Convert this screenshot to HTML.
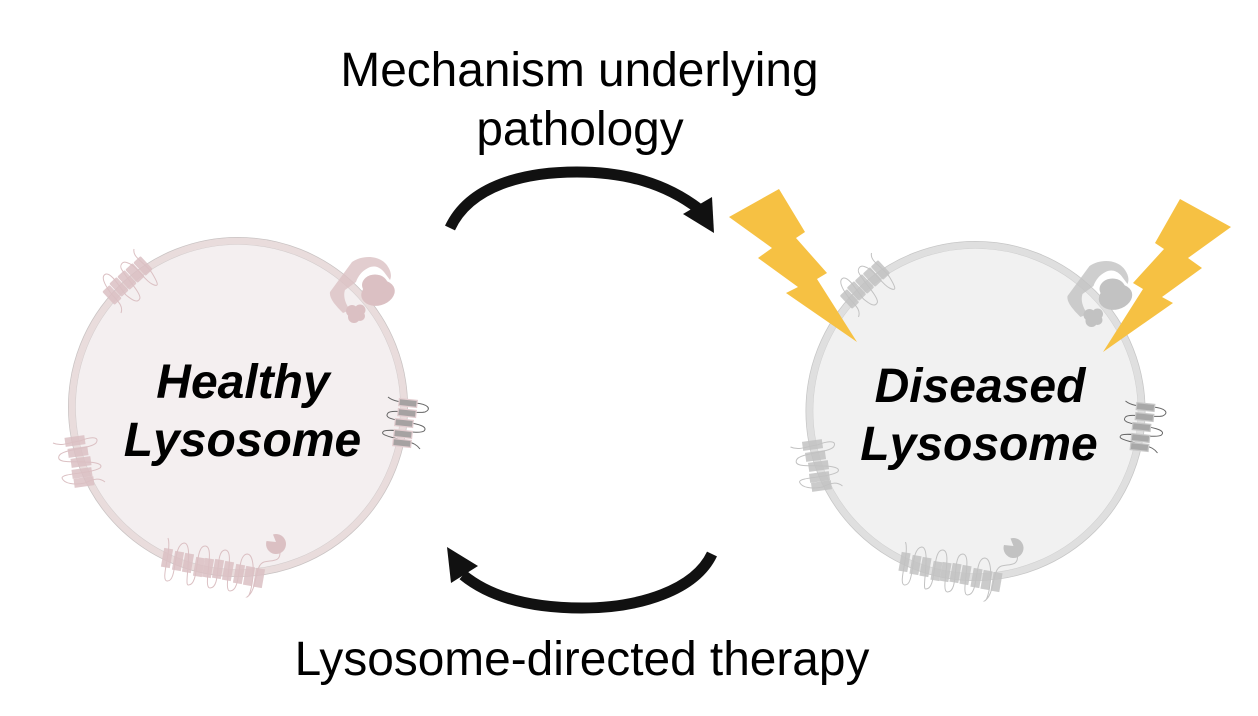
<!DOCTYPE html>
<html><head><meta charset="utf-8"><style>
html,body{margin:0;padding:0;background:#fff;width:1258px;height:716px;overflow:hidden}
svg{display:block}
text{font-family:"Liberation Sans",Arial,sans-serif;font-size:47.8px;fill:#000;text-anchor:middle}
.b{font-weight:bold;font-style:italic;font-size:48px}
.sq{fill:none;stroke:currentColor;stroke-width:1}
</style></head><body>
<svg width="1258" height="716" viewBox="0 0 1258 716" xmlns="http://www.w3.org/2000/svg">
<defs>
<g id="cell">
  <g class="sq">
    <path d="M134,249 C132,258 146,263 152,273 C158,283 160,288 152,284 C144,280 137,266 128,263 C122,260 119,266 122,270 C128,280 140,292 140,298 C138,304 132,300 126,295 C120,288 112,273 106,274 C100,276 105,285 110,292 C116,300 124,305 121,313"/>
    <path d="M53,443 C62,447 70,442 80,441 C92,436 100,437 96,443 C90,449 62,449 59,456 C56,464 75,461 85,462 C95,462 104,464 100,468 C90,474 62,473 62,478 C64,484 75,485 85,483 C95,478 100,478 105,482"/>
    <path d="M168,538 C172,550 160,580 167,581 C178,582 172,545 184,543 C194,543 184,585 188,585 C200,586 194,546 205,546 C216,546 202,588 210,588 C222,588 214,551 225,550 C236,550 222,591 230,591 C242,591 236,555 247,554 C258,554 252,597 247,597 C258,590 254,565 264,562 C272,560 280,562 280,553"/>
  </g>
  <g fill="currentColor" fill-opacity=".85">
    <rect x="-9" y="-5" width="18" height="10" rx="1.5" transform="translate(112,295) rotate(47)"/>
    <rect x="-9" y="-5" width="18" height="10" rx="1.5" transform="translate(119,287) rotate(47)"/>
    <rect x="-9" y="-5" width="18" height="10" rx="1.5" transform="translate(127,280) rotate(47)"/>
    <rect x="-9" y="-5" width="18" height="10" rx="1.5" transform="translate(135,273) rotate(47)"/>
    <rect x="-9" y="-5" width="18" height="10" rx="1.5" transform="translate(143,266) rotate(47)"/>
    <rect x="-10" y="-4.5" width="20" height="9" transform="translate(75,441) rotate(-8)"/>
    <rect x="-10" y="-4.5" width="20" height="9" transform="translate(78,452) rotate(-8)"/>
    <rect x="-10" y="-4.5" width="20" height="9" transform="translate(81,462) rotate(-8)"/>
    <rect x="-10" y="-4.5" width="20" height="9" transform="translate(82,473) rotate(-8)"/>
    <rect x="-10" y="-4.5" width="20" height="9" transform="translate(84,482) rotate(-8)"/>
    <rect x="-4.5" y="-9.5" width="9" height="19" transform="translate(167,558) rotate(10)"/>
    <rect x="-4.5" y="-9.5" width="9" height="19" transform="translate(178,561) rotate(10)"/>
    <rect x="-4.5" y="-9.5" width="9" height="19" transform="translate(188,563) rotate(10)"/>
    <rect x="-4.5" y="-9.5" width="9" height="19" transform="translate(199,567) rotate(10)"/>
    <rect x="-4.5" y="-9.5" width="9" height="19" transform="translate(208,568) rotate(10)"/>
    <rect x="-4.5" y="-9.5" width="9" height="19" transform="translate(218,569) rotate(10)"/>
    <rect x="-4.5" y="-9.5" width="9" height="19" transform="translate(228,571) rotate(10)"/>
    <rect x="-4.5" y="-9.5" width="9" height="19" transform="translate(239,574) rotate(10)"/>
    <rect x="-4.5" y="-9.5" width="9" height="19" transform="translate(249,576) rotate(10)"/>
    <rect x="-4.5" y="-9.5" width="9" height="19" transform="translate(259,578) rotate(10)"/>
  </g>
  <path fill="currentColor" d="M276,542 L273,534.5 A10,10 0 1 1 266.5,541 Z"/>
  <path fill="currentColor" fill-opacity=".8" d="M330,292 L352,262 C362,255 378,255 386,264 C391,270 392,276 390,280 L384,272 C378,265 372,266 368,268 C362,271 358,276 356,282 L345,290 C343,296 345,303 350,310 L343,313 C335,305 329,298 330,292 Z"/>
  <g fill="currentColor">
    <ellipse cx="378" cy="293" rx="17" ry="12.5" transform="rotate(-15 378 293)"/>
    <ellipse cx="375" cy="285" rx="13" ry="10.5"/>
    <circle cx="352" cy="311" r="6"/><circle cx="360" cy="310" r="5.5"/><circle cx="360" cy="316" r="5"/><circle cx="354" cy="317" r="6"/>
  </g>
</g>
<g id="gate">
  <path class="sq" style="color:#666" d="M388,397 C394,402 402,402 415,403 C428,404 432,409 425,412 C415,414 392,409 388,413 C384,418 392,419 405,422 C420,424 428,427 424,431 C418,435 392,428 384,431 C378,435 392,437 405,441 C414,443 417,445 420,449"/>
</g>
</defs>

<!-- Labels -->
<text x="579.5" y="86">Mechanism underlying</text>
<text x="580" y="145">pathology</text>
<text x="582" y="675">Lysosome-directed therapy</text>

<!-- Arrows -->
<path d="M450,228 C470,185 525,172 577,172 C625,172 665,183 699,209" fill="none" stroke="#111" stroke-width="11"/>
<polygon points="712,197 714,233 683,214" fill="#111"/>
<path d="M712,554 C695,590 640,608 582,608 C530,608 490,597 463,575" fill="none" stroke="#111" stroke-width="11"/>
<polygon points="447,547 451,583 478,566" fill="#111"/>

<!-- Healthy -->
<circle cx="238" cy="407" r="169.5" fill="#f4eff0" stroke="#c9c3c3" stroke-width="1"/>
<circle cx="238" cy="407" r="166" fill="none" stroke="#e9dcdc" stroke-width="6.5"/>
<circle cx="238" cy="407" r="162.5" fill="none" stroke="#d4cccc" stroke-width=".6"/>
<g style="color:#dbc0c3"><use href="#cell"/></g>
<use href="#gate"/>
<g fill="#a6a2a2" stroke="#e3cdd0" stroke-width="1.2">
  <rect x="-9" y="-3.5" width="18" height="7" transform="translate(408,403) rotate(6)"/>
  <rect x="-9" y="-3.5" width="18" height="7" transform="translate(407,413) rotate(6)"/>
  <rect x="-9" y="-3.5" width="18" height="7" transform="translate(404,423) rotate(6)"/>
  <rect x="-9" y="-3.5" width="18" height="7" transform="translate(403,434) rotate(6)"/>
  <rect x="-9" y="-3.5" width="18" height="7" transform="translate(402,443) rotate(6)"/>
</g>
<text class="b" x="243" y="398">Healthy</text>
<text class="b" x="242.5" y="456">Lysosome</text>

<!-- Diseased -->
<circle cx="975.5" cy="411" r="169.5" fill="#f1f1f1" stroke="#c6c6c6" stroke-width="1"/>
<circle cx="975.5" cy="411" r="166" fill="none" stroke="#dfdfdf" stroke-width="6.5"/>
<circle cx="975.5" cy="411" r="162.5" fill="none" stroke="#cfcfcf" stroke-width=".6"/>
<g style="color:#c2c2c2" transform="translate(737.5,4)"><use href="#cell"/></g>
<g transform="translate(737.5,4)">
<use href="#gate"/>
<g fill="#a8a8a8" stroke="#c8c8c8" stroke-width="1.2">
  <rect x="-9" y="-3.5" width="18" height="7" transform="translate(408,403) rotate(6)"/>
  <rect x="-9" y="-3.5" width="18" height="7" transform="translate(407,413) rotate(6)"/>
  <rect x="-9" y="-3.5" width="18" height="7" transform="translate(404,423) rotate(6)"/>
  <rect x="-9" y="-3.5" width="18" height="7" transform="translate(403,434) rotate(6)"/>
  <rect x="-9" y="-3.5" width="18" height="7" transform="translate(402,443) rotate(6)"/>
</g>
</g>
<text class="b" x="980" y="402">Diseased</text>
<text class="b" x="979" y="460">Lysosome</text>

<!-- Bolts -->
<polygon fill="#f6c143" points="779,189 729,217 772,248 758,258 798,287 786,293 857,342 817,279 827,273 796,238 805,232"/>
<polygon fill="#f6c143" points="1180,199 1231,227 1188,258 1202,268 1162,297 1173,303 1103,352 1143,289 1133,283 1164,249 1155,243"/>
</svg>
</body></html>
